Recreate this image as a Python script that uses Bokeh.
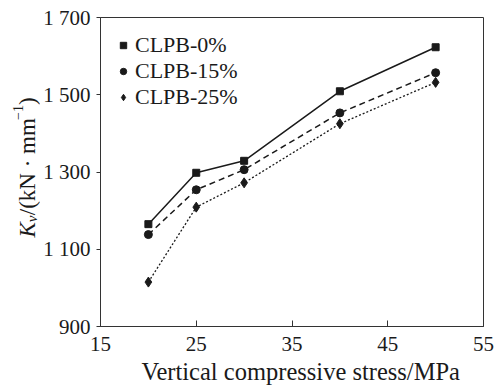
import math
from bokeh.plotting import figure
from bokeh.models import FixedTicker, Legend, LegendItem, Range1d, Title
from bokeh.layouts import row
from bokeh.core.properties import value
from bokeh.embed import file_html
from bokeh.resources import INLINE

# ---- data ----
stress = [20, 25, 30, 40, 50]
clpb_0 = [1165, 1298, 1329, 1509, 1623]
clpb_15 = [1138, 1254, 1306, 1453, 1557]
clpb_25 = [1015, 1209, 1272, 1425, 1532]
series_names = ["CLPB-0%", "CLPB-15%", "CLPB-25%"]
x_ticks = [15, 25, 35, 45, 55]
y_ticks = [900, 1100, 1300, 1500, 1700]
y_tick_labels = ["900", "1 100", "1 300", "1 500", "1 700"]
x_title = "Vertical compressive stress/MPa"

FONT = "Liberation Serif"
INK = "#1a1a1a"
H = 391
LEFT_W = 40
TOP, BOTTOM = 17, 65

p = figure(width=494 - LEFT_W, height=H, output_backend="svg", toolbar_location=None,
           x_range=Range1d(15, 55), y_range=Range1d(900, 1700),
           min_border_left=57, min_border_right=11, min_border_top=TOP,
           min_border_bottom=BOTTOM)
p.xgrid.visible = False
p.ygrid.visible = False
p.outline_line_color = "#333333"
p.outline_line_width = 1
p.background_fill_color = "white"
p.border_fill_color = "white"

# axes
p.xaxis.ticker = FixedTicker(ticks=x_ticks, minor_ticks=[])
p.yaxis.ticker = FixedTicker(ticks=y_ticks, minor_ticks=[])
p.yaxis.major_label_overrides = {t: s for t, s in zip(y_ticks, y_tick_labels)}
for ax in (p.xaxis[0], p.yaxis[0]):
    ax.axis_line_color = "#333333"
    ax.major_tick_line_color = "#333333"
    ax.minor_tick_line_color = None
    ax.major_label_text_font = FONT
    ax.major_label_text_font_size = "21px"
    ax.major_label_text_color = INK
p.xaxis.major_tick_in = 6
p.xaxis.major_tick_out = 0
p.xaxis.major_label_standoff = 10
p.yaxis.major_tick_in = 0
p.yaxis.major_tick_out = 4
p.yaxis.major_label_standoff = 6

# x-axis title (left-aligned with an offset, as in the reference)
p.add_layout(Title(text=x_title, align="left", offset=41, standoff=4,
                   text_font=FONT, text_font_size="24.5px",
                   text_font_style="normal", text_color=INK), "below")

# series
p.line(stress, clpb_0, line_color=INK, line_width=1.5)
p.line(stress, clpb_15, line_color=INK, line_width=1.5, line_dash="6 4")
p.line(stress, clpb_25, line_color=INK, line_width=1.3, line_dash="2 2")
r0 = p.scatter(stress, clpb_0, marker="square", size=7, color=INK)
r1 = p.scatter(stress, clpb_15, marker="circle", size=8, color=INK)
r2 = p.scatter(stress, clpb_25, marker="diamond", size=10, color=INK)

legend = Legend(items=[LegendItem(label=series_names[0], renderers=[r0]),
                       LegendItem(label=series_names[1], renderers=[r1]),
                       LegendItem(label=series_names[2], renderers=[r2])],
                location="top_left", border_line_color=None,
                background_fill_alpha=0, margin=15, padding=17,
                glyph_width=16, glyph_height=20, label_height=20,
                label_standoff=4, spacing=0,
                label_text_font=FONT, label_text_font_size="22px",
                label_text_color=INK)
p.add_layout(legend)

# ---- y-axis title in a narrow strip (italic K, subscript v, superscript -1) ----
# frame of the strip is aligned with the main frame (17 px top, 65 px bottom),
# so its y range is set to canvas pixels measured from the bottom edge.
ylab = figure(width=LEFT_W, height=H, output_backend="svg", toolbar_location=None,
              x_range=Range1d(0, LEFT_W), y_range=Range1d(BOTTOM, H - TOP),
              x_axis_type=None, y_axis_type=None, min_border=0,
              min_border_top=TOP, min_border_bottom=BOTTOM)
ylab.outline_line_color = None
ylab.background_fill_color = "white"
ylab.border_fill_color = "white"
ylab.xgrid.visible = False
ylab.ygrid.visible = False

base_x = 27
start_y = H - 237
pieces = [
    ("K", "23px", "italic", 0, 15.3),
    ("v", "15px", "italic", 4, 7.0),
    ("/(kN · mm", "23px", "normal", 0, 95.2),
    ("−1", "14px", "normal", -10, 15.0),
    (")", "23px", "normal", 0, 7.7),
]
cum = 0.0
for txt, fs, style, dx, w in pieces:
    ylab.text(x=[base_x + dx], y=[start_y + cum], text=[txt], angle=math.pi / 2,
              text_font=value(FONT), text_font_size=value(fs),
              text_font_style=value(style), text_color=INK,
              text_baseline=value("alphabetic"), text_align=value("left"))
    cum += w

layout = row(ylab, p)
open("out.html", "w").write(file_html(layout, INLINE))
